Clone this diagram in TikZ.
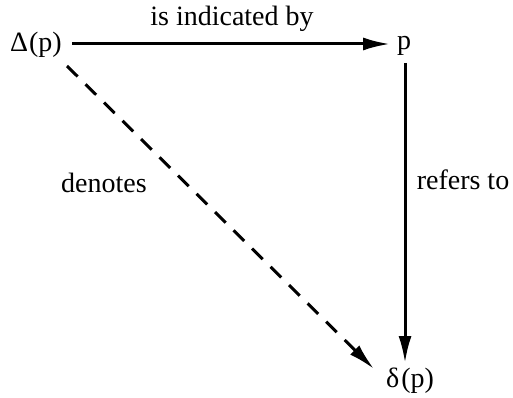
\documentclass[tikz,border=0pt]{standalone}
\usepackage{fontspec}
\setmainfont{Liberation Serif}
\usetikzlibrary{arrows.meta}
\begin{document}
\begin{tikzpicture}[x=1pt,y=-1pt,
  lbl/.style={font=\fontsize{28}{32}\selectfont, inner sep=0pt},
  conn/.style={line width=3pt, -{Latex[length=27pt,width=13pt]}},
  dconn/.style={conn, dash pattern=on 15pt off 11pt}]
\useasboundingbox (0,0) rectangle (513,398);
\node[lbl] (D) at (36,45) {Δ\kern1pt(p)};
\node[lbl] (P) at (404,46) {p};
\node[lbl] (d) at (410,381) {δ\kern2pt(p)};
\node[lbl] (ind) at (232,19) {is indicated by};
\node[lbl] (ref) at (463,180) {refers to};
\node[lbl] (den) at (104,183) {denotes};
\coordinate (a1) at (72,44);
\coordinate (a2) at (390,44);
\coordinate (b1) at (405,63);
\coordinate (b2) at (405,363);
\coordinate (c1) at (67,66);
\coordinate (c2) at (374,369);
\draw[conn] (a1) -- (a2);
\draw[conn] (b1) -- (b2);
\draw[dconn] (c1) -- (c2);
\end{tikzpicture}
\end{document}
